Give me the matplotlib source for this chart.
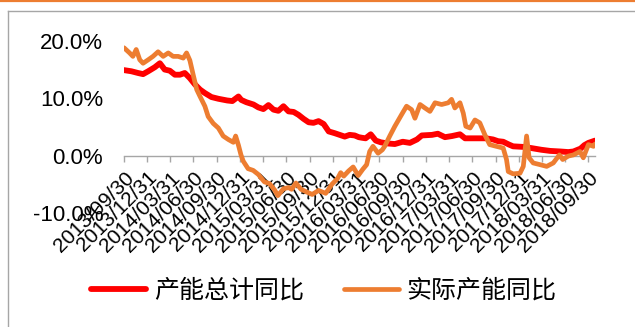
import matplotlib
matplotlib.use("Agg")
import matplotlib.pyplot as plt
import matplotlib.dates as mdates
from matplotlib.lines import Line2D
from matplotlib.ticker import FuncFormatter
import pandas as pd

# 产能总计同比 (%)
total_dates = [
    "2013-09-30", "2013-10-29", "2013-11-24", "2013-12-14", "2014-01-03", "2014-01-29",
    "2014-02-18", "2014-03-09", "2014-03-29", "2014-04-18", "2014-05-08", "2014-05-27",
    "2014-06-16", "2014-07-06", "2014-07-26", "2014-08-14", "2014-09-09", "2014-10-06",
    "2014-11-10", "2014-11-30", "2014-12-24", "2015-01-04", "2015-01-24", "2015-02-21",
    "2015-03-12", "2015-04-01", "2015-04-21", "2015-05-11", "2015-05-30", "2015-06-19",
    "2015-07-09", "2015-07-29", "2015-08-17", "2015-09-06", "2015-09-26", "2015-10-15",
    "2015-11-04", "2015-11-24", "2015-12-14", "2016-01-06", "2016-01-26", "2016-02-15",
    "2016-03-05", "2016-03-25", "2016-04-10", "2016-04-22", "2016-05-07", "2016-05-27",
    "2016-06-16", "2016-07-06", "2016-08-02", "2016-08-30", "2016-09-30", "2016-10-28",
    "2016-11-25", "2016-12-14", "2017-01-23", "2017-02-15", "2017-03-15", "2017-04-12",
    "2017-05-13", "2017-06-02", "2017-06-30", "2017-07-23", "2017-08-24", "2017-09-20",
    "2017-10-10", "2017-10-30", "2017-11-22", "2017-12-08", "2018-01-17", "2018-02-17",
    "2018-03-29", "2018-05-03", "2018-06-12", "2018-07-13", "2018-08-02", "2018-08-30",
    "2018-09-14", "2018-09-30", "2018-10-26",
]
total_yoy = [
    14.9, 14.7, 14.4, 14.2, 14.7, 15.4,
    16.1, 15.0, 14.8, 14.1, 14.1, 14.4,
    13.5, 12.4, 11.5, 10.9, 10.2, 9.9,
    9.6, 9.5, 10.3, 9.7, 9.3, 8.9,
    8.4, 8.1, 8.8, 8.0, 7.8, 8.6,
    7.7, 7.6, 7.1, 6.4, 5.8, 5.7,
    6.0, 5.5, 4.2, 3.9, 3.6, 3.3,
    3.6, 3.5, 3.2, 3.1, 3.0, 3.7,
    2.6, 2.3, 2.1, 2.0, 2.4, 2.2,
    2.8, 3.5, 3.6, 3.8, 3.2, 3.4,
    3.7, 3.0, 3.0, 3.0, 3.0, 2.8,
    2.5, 2.4, 1.9, 1.6, 1.5, 1.3,
    1.0, 0.8, 0.7, 0.6, 0.7, 1.2,
    1.8, 2.2, 2.6,
]

# 实际产能同比 (%)
actual_dates = [
    "2013-09-30", "2013-10-22", "2013-11-04", "2013-11-17", "2013-12-01", "2013-12-14",
    "2014-01-03", "2014-01-22", "2014-02-11", "2014-03-03", "2014-03-23", "2014-04-11",
    "2014-05-01", "2014-05-21", "2014-06-03", "2014-06-16", "2014-06-29", "2014-07-13",
    "2014-07-26", "2014-08-14", "2014-08-27", "2014-09-16", "2014-10-06", "2014-10-25",
    "2014-11-14", "2014-12-04", "2014-12-13", "2014-12-24", "2015-01-03", "2015-01-12",
    "2015-01-31", "2015-02-20", "2015-03-12", "2015-04-05", "2015-04-25", "2015-05-15",
    "2015-05-28", "2015-06-19", "2015-07-09", "2015-07-21", "2015-08-07", "2015-08-27",
    "2015-09-20", "2015-10-10", "2015-11-04", "2015-12-02", "2015-12-27", "2016-01-18",
    "2016-01-30", "2016-02-11", "2016-03-01", "2016-03-19", "2016-04-08", "2016-04-26",
    "2016-05-11", "2016-05-23", "2016-06-05", "2016-06-25", "2016-07-12", "2016-07-21",
    "2016-08-10", "2016-08-30", "2016-09-25", "2016-10-15", "2016-11-04", "2016-11-17",
    "2016-12-07", "2016-12-26", "2017-01-15", "2017-02-04", "2017-03-02", "2017-03-28",
    "2017-04-10", "2017-04-23", "2017-05-13", "2017-05-26", "2017-06-05", "2017-06-22",
    "2017-07-11", "2017-07-30", "2017-08-19", "2017-09-07", "2017-10-03", "2017-10-30",
    "2017-11-12", "2017-11-19", "2017-12-08", "2018-01-04", "2018-01-17", "2018-01-30",
    "2018-02-09", "2018-02-25", "2018-03-24", "2018-04-19", "2018-05-15", "2018-06-08",
    "2018-06-21", "2018-07-13", "2018-08-02", "2018-08-28", "2018-09-10", "2018-09-30",
    "2018-10-20", "2018-10-26",
]
actual_yoy = [
    18.8, 17.9, 17.3, 18.5, 16.7, 16.1,
    16.7, 17.3, 18.1, 17.3, 17.9, 17.3,
    17.3, 17.0, 17.9, 16.6, 14.1, 11.5,
    10.3, 8.6, 6.8, 5.6, 4.8, 3.4,
    2.8, 2.3, 3.4, 1.8, 0.1, -1.0,
    -2.3, -2.6, -3.3, -4.6, -4.9, -6.0,
    -7.0, -5.8, -5.6, -5.9, -4.8, -5.9,
    -6.4, -6.8, -6.1, -6.6, -5.0, -4.0,
    -3.0, -3.6, -2.7, -2.0, -3.5, -2.4,
    -1.6, 0.7, 1.6, 0.4, 1.0, 1.6,
    3.4, 5.1, 7.1, 8.6, 8.0, 6.5,
    8.9, 8.3, 7.7, 9.2, 8.9, 9.2,
    9.8, 8.3, 9.2, 7.4, 5.1, 4.8,
    6.2, 5.7, 3.6, 1.9, 1.6, 1.3,
    -0.7, -2.8, -3.2, -3.1, -1.9, 3.4,
    -0.4, -1.3, -1.6, -1.9, -1.3, 0.1,
    -0.7, -0.1, 0.1, 0.7, -0.4, 1.9,
    1.6, 2.0,
]

# Quarter-end tick labels
tick_labels = [
    "2013/09/30", "2013/12/31", "2014/03/31", "2014/06/30", "2014/09/30",
    "2014/12/31", "2015/03/31", "2015/06/30", "2015/09/30", "2015/12/31",
    "2016/03/31", "2016/06/30", "2016/09/30", "2016/12/31", "2017/03/31",
    "2017/06/30", "2017/09/30", "2017/12/31", "2018/03/31", "2018/06/30",
    "2018/09/30",
]
y_ticks = [-10, 0, 10, 20]

series_names = ["产能总计同比", "实际产能同比"]
series_colors = ["#FF0000", "#ED7D31"]

cjk = ["Noto Sans CJK SC", "DejaVu Sans"]
num_font = "Liberation Sans"

fig = plt.figure(figsize=(6.35, 3.27), dpi=100)
fig.patch.set_facecolor("white")

# Chart-area frame and accent rule along the top edge
fig.add_artist(Line2D([8 / 635, 8 / 635], [0, 1 - 11 / 327], transform=fig.transFigure,
                      color="#A6A6A6", lw=1.0))
fig.add_artist(Line2D([8 / 635, 1], [1 - 11 / 327, 1 - 11 / 327], transform=fig.transFigure,
                      color="#A6A6A6", lw=1.0))
fig.add_artist(Line2D([0, 1], [1 - 0.8 / 327, 1 - 0.8 / 327], transform=fig.transFigure,
                      color="#ED7D31", lw=1.6))

ax = fig.add_axes([124 / 635, (327 - 212.8) / 327, (595 - 124) / 635, (212.8 - 40.9) / 327])
ax.set_facecolor("none")

td = pd.to_datetime(total_dates)
adt = pd.to_datetime(actual_dates)
ax.plot(td, total_yoy, color=series_colors[0], lw=4.2, solid_capstyle="round",
        solid_joinstyle="round", label=series_names[0], zorder=3)
ax.plot(adt, actual_yoy, color=series_colors[1], lw=3.4, solid_capstyle="round",
        solid_joinstyle="round", label=series_names[1], zorder=4)

ax.set_ylim(-10, 20)
ax.set_xlim(pd.Timestamp("2013-09-30"), pd.Timestamp("2018-10-26"))

for s in ("left", "right", "top"):
    ax.spines[s].set_visible(False)
ax.spines["bottom"].set_position(("data", 0))
ax.spines["bottom"].set_color("#A6A6A6")
ax.spines["bottom"].set_linewidth(1.0)
ax.tick_params(axis="x", direction="out", length=4, width=1.0, color="#A6A6A6", pad=5)
ax.tick_params(axis="y", length=0, pad=15)

tick_dates = pd.to_datetime(tick_labels, format="%Y/%m/%d")
ax.set_xticks(mdates.date2num(tick_dates))
ax.set_xticklabels(tick_labels)
ax.set_yticks(y_ticks)
ax.yaxis.set_major_formatter(FuncFormatter(lambda v, p: f"{v:.1f}%"))

fig.canvas.draw()
for lab in ax.get_xticklabels():
    lab.set_fontfamily(num_font)
    lab.set_fontsize(15)
    lab.set_rotation(45)
    lab.set_horizontalalignment("right")
    lab.set_verticalalignment("top")
    lab.set_rotation_mode("anchor")
for lab in ax.get_yticklabels():
    lab.set_fontfamily(num_font)
    lab.set_fontsize(16)

leg = fig.legend(handles=ax.get_lines(), labels=series_names, loc="center",
                 bbox_to_anchor=(0.510, 1 - 291 / 327), ncol=2, frameon=False,
                 prop={"family": cjk, "size": 18}, handlelength=2.2, handletextpad=0.3,
                 columnspacing=1.6, borderpad=0, borderaxespad=0)

fig.savefig("out.png", dpi=100, facecolor="white")
